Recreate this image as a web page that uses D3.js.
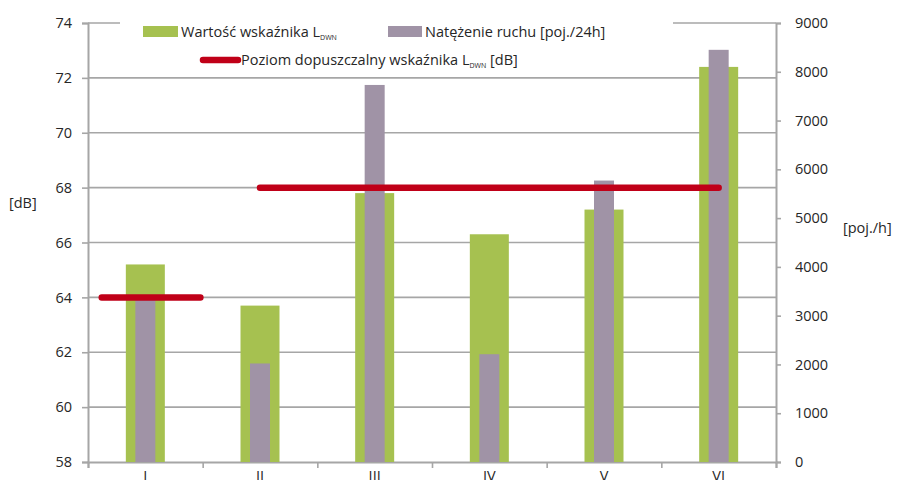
<!DOCTYPE html>
<html>
<head>
<meta charset="utf-8">
<script src="https://cdn.jsdelivr.net/npm/d3@7"></script>
<style>
  body { margin: 0; background: #fff; }
  text { font-family: "Open Sans", sans-serif; fill: #262626; }
</style>
</head>
<body>
<svg id="chart" width="900" height="480"></svg>
<script>
const categories = ['I', 'II', 'III', 'IV', 'V', 'VI'];
const ldwnValues = [65.2, 63.7, 67.8, 66.3, 67.2, 72.4];
const trafficValues = [3380, 2020, 7730, 2210, 5770, 8450];
// limit line segments, start/end in category units along the x axis
const limitSegments = [
  { start: 0.12, end: 0.98, db: 64 },
  { start: 1.5, end: 5.5, db: 68 }
];
const dbTicks = [58, 60, 62, 64, 66, 68, 70, 72, 74];
const trafficTicks = [0, 1000, 2000, 3000, 4000, 5000, 6000, 7000, 8000, 9000];

const plotLeft = 88, plotRight = 776, plotTop = 23, plotBottom = 462;
const svg = d3.select('#chart');

const x = d3.scaleBand().domain(categories).range([plotLeft, plotRight]);
const xLin = d3.scaleLinear().domain([0, categories.length]).range([plotLeft, plotRight]);
const yDb = d3.scaleLinear().domain([58, 74]).range([plotBottom, plotTop]);
const yTr = d3.scaleLinear().domain([0, 9000]).range([plotBottom, plotTop]);

const gridColor = '#a6a6a6';

// gridlines
svg.append('g')
  .selectAll('line')
  .data(dbTicks.slice(1))
  .enter()
  .append('line')
  .attr('x1', plotLeft).attr('x2', plotRight)
  .attr('y1', d => yDb(d)).attr('y2', d => yDb(d))
  .attr('stroke', gridColor)
  .attr('stroke-width', 1.6);

// left axis
const leftAxis = svg.append('g')
  .attr('transform', `translate(${plotLeft},0)`)
  .call(d3.axisLeft(yDb).tickValues(dbTicks).tickSize(6).tickPadding(10).tickFormat(d3.format('d')));
leftAxis.select('.domain').attr('stroke', gridColor).attr('stroke-width', 2);
leftAxis.selectAll('.tick line').attr('stroke', gridColor).attr('stroke-width', 1.6);
leftAxis.selectAll('text').style('font-size', '14.5px').style('font-family', '"Open Sans", sans-serif').attr('fill', '#262626');

// right axis
const rightAxis = svg.append('g')
  .attr('transform', `translate(${plotRight},0)`)
  .call(d3.axisRight(yTr).tickValues(trafficTicks).tickSize(5).tickPadding(14).tickFormat(d3.format('d')));
rightAxis.select('.domain').attr('stroke', gridColor).attr('stroke-width', 2);
rightAxis.selectAll('.tick line').attr('stroke', gridColor).attr('stroke-width', 1.6);
rightAxis.selectAll('text').style('font-size', '14.5px').style('font-family', '"Open Sans", sans-serif').attr('fill', '#262626');

// bottom axis
const bottomAxis = svg.append('g')
  .attr('transform', `translate(0,${plotBottom})`)
  .call(d3.axisBottom(xLin).ticks(6).tickSize(6).tickFormat(''));
bottomAxis.select('.domain').attr('stroke', gridColor).attr('stroke-width', 2);
bottomAxis.selectAll('.tick line').attr('stroke', gridColor).attr('stroke-width', 1.6);

svg.append('g')
  .selectAll('text')
  .data(categories)
  .enter()
  .append('text')
  .attr('x', d => x(d) + x.bandwidth() / 2)
  .attr('y', 481)
  .attr('text-anchor', 'middle')
  .style('font-size', '14.5px')
  .text(d => d);

// green bars (dB)
const greenW = 39, purpleW = 20;
svg.append('g')
  .selectAll('rect')
  .data(categories)
  .enter()
  .append('rect')
  .attr('x', d => x(d) + x.bandwidth() / 2 - greenW / 2)
  .attr('width', greenW)
  .attr('y', (d, i) => yDb(ldwnValues[i]))
  .attr('height', (d, i) => plotBottom - yDb(ldwnValues[i]))
  .attr('fill', '#a6c150');

// purple bars (traffic)
svg.append('g')
  .selectAll('rect')
  .data(categories)
  .enter()
  .append('rect')
  .attr('x', d => x(d) + x.bandwidth() / 2 - purpleW / 2)
  .attr('width', purpleW)
  .attr('y', (d, i) => yTr(trafficValues[i]))
  .attr('height', (d, i) => plotBottom - yTr(trafficValues[i]))
  .attr('fill', '#a093a6');

// limit lines
svg.append('g')
  .selectAll('line')
  .data(limitSegments)
  .enter()
  .append('line')
  .attr('x1', d => xLin(d.start)).attr('x2', d => xLin(d.end))
  .attr('y1', d => yDb(d.db)).attr('y2', d => yDb(d.db))
  .attr('stroke', '#c00018')
  .attr('stroke-width', 6.5)
  .attr('stroke-linecap', 'round');

// legend
const legend = svg.append('g');
legend.append('rect')
  .attr('x', 120).attr('y', 8).attr('width', 553).attr('height', 66)
  .attr('fill', '#fff');

legend.append('rect').attr('x', 143).attr('y', 26).attr('width', 35).attr('height', 11).attr('fill', '#a6c150');
const t1 = legend.append('text').attr('x', 181).attr('y', 37).style('font-size', '14.5px');
t1.append('tspan').text('Wartość wskaźnika L');
t1.append('tspan').attr('dy', 3).style('font-size', '7px').text('DWN');

legend.append('rect').attr('x', 388).attr('y', 26).attr('width', 34).attr('height', 11).attr('fill', '#a093a6');
legend.append('text').attr('x', 425).attr('y', 37).style('font-size', '14.5px').text('Natężenie ruchu [poj./24h]');

legend.append('line')
  .attr('x1', 203).attr('x2', 238).attr('y1', 60).attr('y2', 60)
  .attr('stroke', '#c00018').attr('stroke-width', 6.5).attr('stroke-linecap', 'round');
const t3 = legend.append('text').attr('x', 241).attr('y', 65).style('font-size', '14.5px');
t3.append('tspan').text('Poziom dopuszczalny wskaźnika L');
t3.append('tspan').attr('dy', 3).style('font-size', '7px').text('DWN');
t3.append('tspan').attr('dy', -3).text(' [dB]');

// axis titles
svg.append('text').attr('x', 9).attr('y', 208).style('font-size', '14.5px').text('[dB]');
svg.append('text').attr('x', 843).attr('y', 233).style('font-size', '14.5px').text('[poj./h]');
</script>
</body>
</html>
